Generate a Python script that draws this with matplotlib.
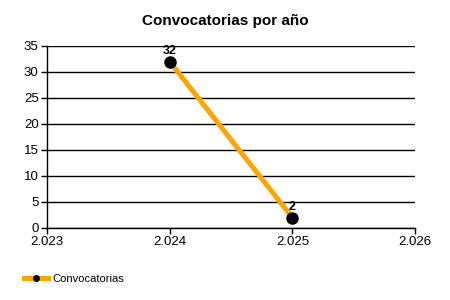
import matplotlib
matplotlib.use("Agg")
import matplotlib.pyplot as plt
from matplotlib.ticker import FuncFormatter, MultipleLocator
from matplotlib.lines import Line2D

plt.rcParams['font.family'] = ['Liberation Sans', 'DejaVu Sans']

years = [2024, 2025]
counts = [32, 2]
series_name = 'Convocatorias'
title = 'Convocatorias por año'

fig = plt.figure(figsize=(4.5, 3), dpi=100)
ax = fig.add_axes([0.1044, 0.24, 0.818, 0.6067])

ax.plot(years, counts, color='#FFA500', lw=3.6, solid_capstyle='butt', zorder=3)
ax.plot(years, counts, 'o', color='black', ms=8, zorder=4)
for x, y in zip(years, counts):
    ax.annotate(str(y), (x, y), xytext=(0, 3), textcoords='offset points',
                ha='center', va='bottom', fontsize=9, fontweight='bold', zorder=5)

ax.set_xlim(2023, 2026)
ax.set_ylim(0, 35)
ax.xaxis.set_major_locator(MultipleLocator(1))
ax.yaxis.set_major_locator(MultipleLocator(5))
ax.xaxis.set_major_formatter(FuncFormatter(lambda v, p: f"{v:,.0f}".replace(',', '.')))
ax.grid(axis='y', color='black', lw=1)
ax.set_axisbelow(True)
for s in ['top', 'right']:
    ax.spines[s].set_visible(False)
ax.spines['left'].set_linewidth(1)
ax.spines['bottom'].set_linewidth(1)
ax.tick_params(labelsize=9.5, length=4, width=1, pad=2)

ax.set_title(title, fontsize=11, fontweight='bold', pad=15, x=0.484)

handle = Line2D([], [], color='#FFA500', lw=3.6, marker='o', ms=4,
                markerfacecolor='black', markeredgecolor='black')
fig.legend([handle], [series_name], loc='lower left', bbox_to_anchor=(0.03, 0.02),
           frameon=False, fontsize=8, handlelength=2.2, handletextpad=0.4)

fig.savefig('out.png', dpi=100)
